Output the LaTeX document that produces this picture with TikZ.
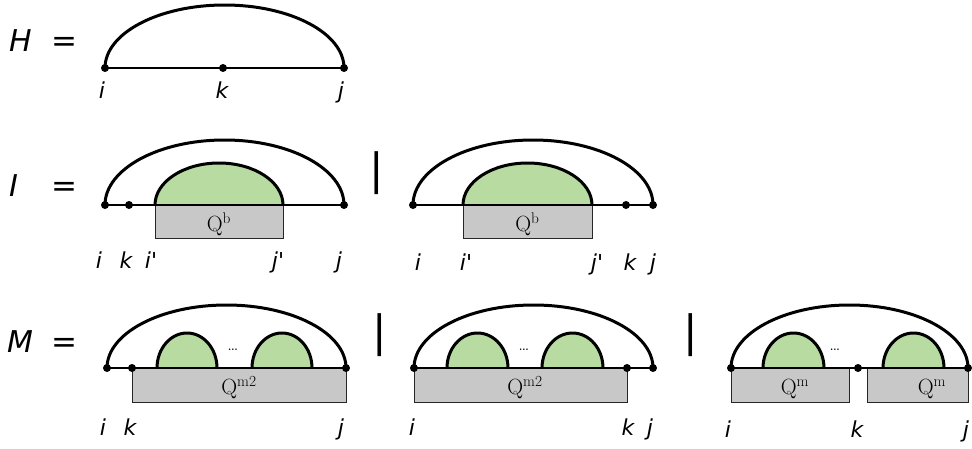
\documentclass[tikz,border=0pt]{standalone}
\usepackage{fontspec}
\newfontfamily\dv{DejaVu Sans}
\definecolor{qgreen}{RGB}{183,219,160}
\definecolor{qgray}{RGB}{200,200,200}
\begin{document}
\begin{tikzpicture}[x=1pt,y=1pt,
  arcl/.style={line width=3pt},
  baseln/.style={line width=2.7pt},
  dot/.style={circle,fill=black,inner sep=0pt,minimum size=8pt},
  qbox/.style={draw=black!85,line width=1.4pt,fill=qgray},
  domefill/.style={fill=qgreen},
  domeline/.style={line width=3pt},
  lab/.style={font=\dv\itshape\fontsize{22}{22}\selectfont,anchor=base,inner sep=0pt},
  big/.style={font=\dv\itshape\fontsize{30}{30}\selectfont,anchor=base west,inner sep=0pt},
  eqs/.style={font=\dv\fontsize{31}{31}\selectfont,anchor=base west,inner sep=0pt},
  barsym/.style={font=\dv\fontsize{43}{43}\selectfont,inner sep=0pt},
  qlab/.style={font=\fontsize{22}{22}\selectfont,anchor=base,inner sep=0pt},
  dts/.style={font=\fontsize{19}{19}\selectfont,inner sep=0pt},
]
\useasboundingbox (0,0) rectangle (972,-448);

% ---------------- Row H ----------------
\node[big] (Hn) at (9,-51) {H};
\node[eqs] (Heq) at (51,-51) {=};
\node[dot] (hi) at (105,-68) {};
\node[dot] (hk) at (223,-68) {};
\node[dot] (hj) at (344,-68) {};
\draw[arcl] (hi.center) arc[start angle=180,end angle=0,x radius=119.5,y radius=63];
\draw[baseln] (hi.center) -- (hj.center);
\node[lab] (lhi) at (102,-98) {i};
\node[lab] (lhk) at (222,-98) {k};
\node[lab] (lhj) at (341,-98) {j};

% ---------------- Row I ----------------
\node[big] (In) at (9,-196) {I};
\node[eqs] (Ieq) at (51,-196) {=};
% left
\node[qbox,minimum width=128pt,minimum height=33pt,anchor=north west] (IbA) at (155,-205) {};
\fill[domefill] (155,-205) arc[start angle=180,end angle=0,x radius=64,y radius=42] -- cycle;
\draw[domeline] (155,-205) arc[start angle=180,end angle=0,x radius=64,y radius=42];
\node[dot] (ii) at (105,-205) {};
\node[dot] (ik) at (129,-205) {};
\node[dot] (ij) at (344,-205) {};
\draw[arcl] (ii.center) arc[start angle=180,end angle=0,x radius=119.5,y radius=65];
\draw[baseln] (ii.center) -- (ij.center);
\node[qlab] (qIA) at (219,-231) {Q$^{\mathrm{b}}$};
\node[lab] (liA1) at (99,-268) {i};
\node[lab] (liA2) at (126,-268) {k};
\node[lab] (liA3) at (151,-268) {i'};
\node[lab] (liA4) at (278,-268) {j'};
\node[lab] (liA5) at (339,-268) {j};
% bar
\node[barsym] (barI) at (377,-173.5) {|};
% right
\node[qbox,minimum width=129pt,minimum height=33pt,anchor=north west] (IbB) at (463,-205) {};
\fill[domefill] (463,-205) arc[start angle=180,end angle=0,x radius=64.5,y radius=42] -- cycle;
\draw[domeline] (463,-205) arc[start angle=180,end angle=0,x radius=64.5,y radius=42];
\node[dot] (ri) at (413,-205) {};
\node[dot] (rk) at (626,-205) {};
\node[dot] (rj) at (653,-205) {};
\draw[arcl] (ri.center) arc[start angle=180,end angle=0,x radius=120,y radius=65];
\draw[baseln] (ri.center) -- (rj.center);
\node[qlab] (qIB) at (527.5,-231) {Q$^{\mathrm{b}}$};
\node[lab] (liB1) at (418,-270) {i};
\node[lab] (liB2) at (466,-270) {i'};
\node[lab] (liB3) at (597,-270) {j'};
\node[lab] (liB4) at (630,-270) {k};
\node[lab] (liB5) at (653,-270) {j};

% ---------------- Row M ----------------
\node[big] (Mn) at (7,-352) {M};
\node[eqs] (Meq) at (51,-352) {=};
% left
\node[qbox,minimum width=214pt,minimum height=34pt,anchor=north west] (MbA) at (132,-368) {};
\foreach \s in {157,252}{
  \fill[domefill] (\s,-368) arc[start angle=180,end angle=0,x radius=30,y radius=35] -- cycle;
  \draw[domeline] (\s,-368) arc[start angle=180,end angle=0,x radius=30,y radius=35];
}
\node[dts] (dA) at (233,-350) {\ldots};
\node[dot] (mai) at (107,-368) {};
\node[dot] (mak) at (132,-368) {};
\node[dot] (maj) at (346,-368) {};
\draw[arcl] (mai.center) arc[start angle=180,end angle=0,x radius=119.5,y radius=63];
\draw[baseln] (mai.center) -- (maj.center);
\node[qlab] (qMA) at (239,-394) {Q$^{\mathrm{m2}}$};
\node[lab] (lmA1) at (103,-435) {i};
\node[lab] (lmA2) at (130,-435) {k};
\node[lab] (lmA3) at (341,-435) {j};
% bar
\node[barsym] (barM1) at (380,-335) {|};
% middle
\node[qbox,minimum width=213pt,minimum height=34pt,anchor=north west] (MbB) at (414,-368) {};
\foreach \s in {447,542}{
  \fill[domefill] (\s,-368) arc[start angle=180,end angle=0,x radius=30.5,y radius=35] -- cycle;
  \draw[domeline] (\s,-368) arc[start angle=180,end angle=0,x radius=30.5,y radius=35];
}
\node[dts] (dB) at (524,-350) {\ldots};
\node[dot] (mbi) at (414,-368) {};
\node[dot] (mbk) at (627,-368) {};
\node[dot] (mbj) at (653,-368) {};
\draw[arcl] (mbi.center) arc[start angle=180,end angle=0,x radius=119.5,y radius=63];
\draw[baseln] (mbi.center) -- (mbj.center);
\node[qlab] (qMB) at (525,-394) {Q$^{\mathrm{m2}}$};
\node[lab] (lmB1) at (412,-435) {i};
\node[lab] (lmB2) at (628,-435) {k};
\node[lab] (lmB3) at (650,-435) {j};
% bar
\node[barsym] (barM2) at (691,-335) {|};
% right
\node[qbox,minimum width=118pt,minimum height=34pt,anchor=north west] (MbC) at (731,-368) {};
\node[qbox,minimum width=101pt,minimum height=34pt,anchor=north west] (MbD) at (867,-368) {};
\foreach \s in {763,883}{
  \fill[domefill] (\s,-368) arc[start angle=180,end angle=0,x radius=30.5,y radius=35] -- cycle;
  \draw[domeline] (\s,-368) arc[start angle=180,end angle=0,x radius=30.5,y radius=35];
}
\node[dts] (dC) at (835,-350) {\ldots};
\node[dot] (mci) at (731,-368) {};
\node[dot] (mck) at (858,-368) {};
\node[dot] (mcj) at (968,-368) {};
\draw[arcl] (mci.center) arc[start angle=180,end angle=0,x radius=118.5,y radius=63];
\draw[baseln] (mci.center) -- (mcj.center);
\node[qlab] (qMC) at (795,-394) {Q$^{\mathrm{m}}$};
\node[qlab] (qMD) at (932,-394) {Q$^{\mathrm{m}}$};
\node[lab] (lmC1) at (728,-437) {i};
\node[lab] (lmC2) at (857,-437) {k};
\node[lab] (lmC3) at (966,-437) {j};
\end{tikzpicture}
\end{document}
